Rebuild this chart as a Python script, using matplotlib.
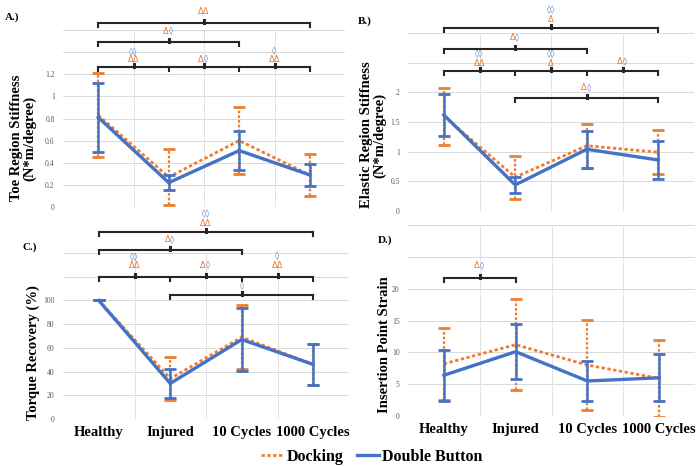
import matplotlib
matplotlib.use("Agg")
import matplotlib.pyplot as plt
from matplotlib.lines import Line2D
from matplotlib.transforms import blended_transform_factory

W, H = 698, 466
ORANGE = '#ED7D31'
BLUE = '#4472C4'
SERIF = 'Liberation Serif'

categories = ['Healthy', 'Injured', '10 Cycles', '1000 Cycles']

# Panel A: Toe region stiffness
toe_dock = [0.83, 0.27, 0.60, 0.29]
toe_dock_sd = [0.38, 0.25, 0.30, 0.19]
toe_db = [0.81, 0.22, 0.51, 0.29]
toe_db_sd = [0.31, 0.07, 0.18, 0.10]

# Panel B: Elastic region stiffness
ela_dock = [1.60, 0.57, 1.10, 0.99]
ela_dock_sd = [0.48, 0.36, 0.37, 0.37]
ela_db = [1.62, 0.44, 1.04, 0.86]
ela_db_sd = [0.35, 0.13, 0.31, 0.32]

# Panel C: Torque recovery
tor_dock = [100, 34, 69, 46]
tor_dock_sd = [0, 18, 27, 17]
tor_db = [100, 30, 67, 46]
tor_db_sd = [0, 12.5, 26.5, 17.5]

# Panel D: Insertion point strain
ins_dock = [8.2, 11.2, 8.0, 5.9]
ins_dock_sd = [5.7, 7.1, 7.1, 6.1]
ins_db = [6.4, 10.1, 5.5, 6.0]
ins_db_sd = [4.0, 4.3, 3.1, 3.7]

fig = plt.figure(figsize=(W / 100, H / 100), dpi=100)


def add_ax(l, t, r, b):
    return fig.add_axes([l / W, 1 - b / H, (r - l) / W, (b - t) / H])


def style(ax, ymax, step, labmax, fmt, show_x):
    ax.set_xlim(-0.5, 3.5)
    ax.set_ylim(0, ymax)
    for s in ax.spines.values():
        s.set_visible(False)
    n = int(round(ymax / step))
    ticks = [i * step for i in range(n + 1)]
    for t in ticks:
        ax.axhline(t, color='#d9d9d9', lw=0.7, zorder=0)
    for xv in [0.5, 1.5, 2.5, 3.5]:
        ax.axvline(xv, color='#e3e3e3', lw=0.7, zorder=0)
    lt = [t for t in ticks if t <= labmax + 1e-9]
    ax.set_yticks(lt)
    ax.set_yticklabels([fmt(t) for t in lt], fontsize=5.5, color='#595959', family=SERIF)
    ax.tick_params(axis='y', length=0, pad=6)
    ax.set_xticks(range(4))
    if show_x:
        ax.set_xticklabels(categories, fontsize=10.5, fontweight='bold', family=SERIF)
        ax.tick_params(axis='x', length=0, pad=5)
    else:
        ax.set_xticklabels([])
        ax.tick_params(axis='x', length=0)


def plot_series(ax, dock, dock_sd, db, db_sd):
    x = range(4)
    e1 = ax.errorbar(x, dock, yerr=dock_sd, color=ORANGE, lw=2, ls=(0, (1.2, 0.9)),
                     capsize=4, capthick=2, elinewidth=1.6, zorder=3)
    e1[2][0].set_linestyle((0, (1.2, 0.9)))
    ax.errorbar(x, db, yerr=db_sd, color=BLUE, lw=2.4, capsize=4, capthick=2,
                elinewidth=1.8, zorder=4)


def fmt_a(t):
    return '0' if t == 0 else ('1' if abs(t - 1) < 1e-9 else f'{t:.1f}')


def fmt_b(t):
    return f'{t:g}'


def fmt_int(t):
    return f'{int(t)}'


def bracket(ax, xs, ypx):
    tr = blended_transform_factory(ax.transData, fig.transFigure)
    y = 1 - ypx / H
    d = 4 / H
    ax.plot([xs[0], xs[-1]], [y, y], color='#262626', lw=1.5, transform=tr, clip_on=False, zorder=6)
    for xv in xs:
        ax.plot([xv, xv], [y, y - d], color='#262626', lw=1.5, transform=tr, clip_on=False, zorder=6)


def mark(ax, xc, ypx):
    tr = blended_transform_factory(ax.transData, fig.transFigure)
    y = 1 - ypx / H
    ax.plot([xc, xc], [y, y + 3 / H], color='#262626', lw=2.2, transform=tr, clip_on=False, zorder=6)


def label(ax, xc, ypx, parts, fs=6):
    tr = blended_transform_factory(ax.transData, fig.transFigure)
    y = 1 - ypx / H
    if len(parts) == 1:
        ax.text(xc, y, parts[0][0], color=parts[0][1], ha='center', va='center',
                fontsize=fs, transform=tr, clip_on=False, zorder=7)
    else:
        ax.text(xc, y, parts[0][0], color=parts[0][1], ha='right', va='center',
                fontsize=fs, transform=tr, clip_on=False, zorder=7)
        ax.text(xc, y, parts[1][0], color=parts[1][1], ha='left', va='center',
                fontsize=fs, transform=tr, clip_on=False, zorder=7)


D = 'Δ'
P = '◊'

# ---------- Panel A ----------
axA = add_ax(63, 30, 345, 207)
style(axA, 1.6, 0.2, 1.2, fmt_a, False)
plot_series(axA, toe_dock, toe_dock_sd, toe_db, toe_db_sd)
bracket(axA, [0, 3], 23); mark(axA, 1.5, 23); label(axA, 1.5, 12, [(D + D, ORANGE)])
bracket(axA, [0, 2], 42); mark(axA, 1.0, 42); label(axA, 1.0, 31, [(D, ORANGE), (P, BLUE)])
bracket(axA, [0, 1, 2, 3], 67)
for xc in [0.5, 1.5, 2.5]:
    mark(axA, xc, 67)
label(axA, 0.5, 52, [(P + P, BLUE)]); label(axA, 0.5, 60, [(D + D, ORANGE)])
label(axA, 1.5, 59, [(D, ORANGE), (P, BLUE)])
label(axA, 2.5, 51, [(P, BLUE)]); label(axA, 2.5, 60, [(D + D, ORANGE)])

# ---------- Panel B ----------
axB = add_ax(408, 33, 694, 211)
style(axB, 3.0, 0.5, 2.0, fmt_b, False)
plot_series(axB, ela_dock, ela_dock_sd, ela_db, ela_db_sd)
bracket(axB, [0, 3], 28); mark(axB, 1.5, 28)
label(axB, 1.5, 10, [(P + P, BLUE)]); label(axB, 1.5, 19, [(D, ORANGE)])
bracket(axB, [0, 2], 49); mark(axB, 1.0, 49); label(axB, 1.0, 38, [(D, ORANGE), (P, BLUE)])
bracket(axB, [0, 1, 2, 3], 71)
for xc in [0.5, 1.5, 2.5]:
    mark(axB, xc, 71)
label(axB, 0.5, 54, [(P + P, BLUE)]); label(axB, 0.5, 63, [(D + D, ORANGE)])
label(axB, 1.5, 54, [(P + P, BLUE)]); label(axB, 1.5, 63, [(D, ORANGE)])
label(axB, 2.5, 62, [(D, ORANGE), (P, BLUE)])
bracket(axB, [1, 3], 98); mark(axB, 2.0, 98); label(axB, 2.0, 88, [(D, ORANGE), (P, BLUE)])

# ---------- Panel C ----------
axC = add_ax(63, 253, 349, 419)
style(axC, 140, 20, 100, fmt_int, True)
plot_series(axC, tor_dock, tor_dock_sd, tor_db, tor_db_sd)
bracket(axC, [0, 3], 232); mark(axC, 1.5, 232)
label(axC, 1.5, 214, [(P + P, BLUE)]); label(axC, 1.5, 223, [(D + D, ORANGE)])
bracket(axC, [0, 2], 250); mark(axC, 1.0, 250); label(axC, 1.0, 240, [(D, ORANGE), (P, BLUE)])
bracket(axC, [0, 1, 2, 3], 277)
for xc in [0.5, 1.5, 2.5]:
    mark(axC, xc, 277)
label(axC, 0.5, 257, [(P + P, BLUE)]); label(axC, 0.5, 266, [(D + D, ORANGE)])
label(axC, 1.5, 265, [(D, ORANGE), (P, BLUE)])
label(axC, 2.5, 256, [(P, BLUE)]); label(axC, 2.5, 266, [(D + D, ORANGE)])
bracket(axC, [1, 3], 295); mark(axC, 2.0, 295); label(axC, 2.0, 286, [(P, BLUE)])

# ---------- Panel D ----------
axD = add_ax(408, 225, 695, 416)
style(axD, 30, 5, 20, fmt_int, True)
plot_series(axD, ins_dock, ins_dock_sd, ins_db, ins_db_sd)
bracket(axD, [0, 1], 278); mark(axD, 0.5, 278); label(axD, 0.5, 266, [(D, ORANGE), (P, BLUE)])

# ---------- Panel letters and axis titles ----------
for txt, xp, yp in [('A.)', 12, 17), ('B.)', 365, 21), ('C.)', 30, 247), ('D.)', 385, 240)]:
    fig.text(xp / W, 1 - yp / H, txt, fontsize=8, fontweight='bold', family=SERIF,
             ha='center', va='center')

ylabs = [("Toe Region Stiffness\n(N*m/degree)", 23, 138),
         ("Elastic Region Stiffness\n(N*m/degree)", 373, 135),
         ("Torque Recovery (%)", 33, 353),
         ("Insertion Point Strain", 385, 345)]
for txt, xp, yp in ylabs:
    fig.text(xp / W, 1 - yp / H, txt, fontsize=10.5, fontweight='bold', family=SERIF,
             rotation=90, ha='center', va='center', linespacing=1.0)

handles = [Line2D([], [], color=ORANGE, lw=2, ls=(0, (1.2, 0.9))),
           Line2D([], [], color=BLUE, lw=2.4)]
fig.legend(handles, ['Docking', 'Double Button'], loc='center',
           bbox_to_anchor=(372 / W, 1 - 457 / H), ncol=2, frameon=False,
           prop={'family': SERIF, 'weight': 'bold', 'size': 11.5},
           handlelength=1.4, handletextpad=0.2, columnspacing=0.8)

fig.savefig('out.png', dpi=100)
